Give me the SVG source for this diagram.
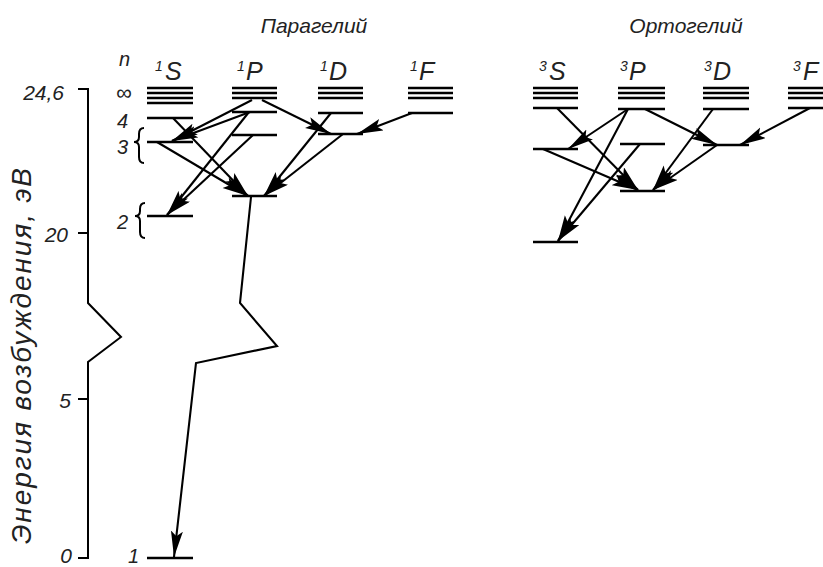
<svg xmlns="http://www.w3.org/2000/svg" width="823" height="567" viewBox="0 0 823 567">
  <style>
    .lv { stroke: #000; stroke-width: 2.6; fill: none; }
    .lvs { stroke: #000; stroke-width: 2.4; fill: none; }
    .ax { stroke: #000; stroke-width: 2; fill: none; }
    .tr { stroke: #000; stroke-width: 2.1; fill: none; marker-end: url(#ah); }
    .t { font-family: "Liberation Sans", Arial, sans-serif; font-style: italic; fill: #222; }
    .term { font-size: 25px; }
    .sup { font-size: 14px; }
    .num { font-size: 21px; }
    .nl { font-size: 20px; }
    .title { font-size: 21px; }
  </style>
  <defs>
    <marker id="ah" markerUnits="userSpaceOnUse" markerWidth="28" markerHeight="13" refX="26" refY="6" orient="auto">
      <path d="M0,0 L26,6 L0,12 L5,6 Z" fill="#000"/>
    </marker>
  </defs>

  <rect width="823" height="567" fill="#fff"/>

  <!-- energy axis with break -->
  <g id="axis">
    <path class="ax" d="M78,89 H88 V303 L121,337 L88,362 V558 H78"/>
    <path class="ax" d="M78,233 H88 M78,399 H88"/>
    <text class="t num" x="64" y="100" text-anchor="end">24,6</text>
    <text class="t num" x="68" y="242" text-anchor="end">20</text>
    <text class="t num" x="71" y="408" text-anchor="end">5</text>
    <text class="t num" x="72" y="563" text-anchor="end">0</text>
    <text class="t" font-size="28" transform="translate(31,356) rotate(-90)" text-anchor="middle" textLength="376" lengthAdjust="spacing">Энергия возбуждения, эВ</text>
  </g>

  <!-- principal quantum number labels -->
  <g id="n-labels">
    <text class="t nl" x="119" y="66">n</text>
    <text class="t" font-size="22" x="116" y="100">∞</text>
    <text class="t nl" x="117" y="128">4</text>
    <text class="t nl" x="117" y="154">3</text>
    <path class="ax" stroke-width="1.6" d="M144,128 Q139,128 139,134 L139,137 Q139,142 134,142 Q139,142 139,147 L139,157 Q139,163 144,163"/>
    <text class="t nl" x="117" y="229">2</text>
    <path class="ax" stroke-width="1.6" d="M145,203 Q140,203 140,209 L140,211 Q140,216 135,216 Q140,216 140,221 L140,232 Q140,238 145,238"/>
    <text class="t nl" x="128" y="563">1</text>
  </g>

  <!-- group titles -->
  <text class="t title" x="314" y="33" text-anchor="middle">Парагелий</text>
  <text class="t title" x="686" y="33" text-anchor="middle">Ортогелий</text>

  <!-- parahelium terms -->
  <g id="p1S">
    <text class="t sup" x="155" y="71">1</text>
    <text class="t term" x="165" y="80">S</text>
    <path class="lvs" d="M147,88 H193 M147,93 H193 M147,98 H193 M147,103 H193"/>
    <path class="lv" d="M147,118 H193 M147,142 H193 M147,216 H193 M147,558 H193"/>
  </g>
  <g id="p1P">
    <text class="t sup" x="237" y="71">1</text>
    <text class="t term" x="246" y="80">P</text>
    <path class="lvs" d="M232,88 H277 M232,93 H277 M232,98 H277"/>
    <path class="lv" d="M232,112 H277 M232,135 H277 M232,196 H277"/>
  </g>
  <g id="p1D">
    <text class="t sup" x="320" y="71">1</text>
    <text class="t term" x="329" y="80">D</text>
    <path class="lvs" d="M318,88 H363 M318,93 H363 M318,98 H363"/>
    <path class="lv" d="M318,113 H363 M318,134 H363"/>
  </g>
  <g id="p1F">
    <text class="t sup" x="410" y="71">1</text>
    <text class="t term" x="419" y="80">F</text>
    <path class="lvs" d="M408,88 H453 M408,93 H453 M408,98 H453"/>
    <path class="lv" d="M408,113 H453"/>
  </g>

  <!-- orthohelium terms -->
  <g id="o3S">
    <text class="t sup" x="539" y="71">3</text>
    <text class="t term" x="549" y="80">S</text>
    <path class="lvs" d="M533,88 H578 M533,93 H578 M533,98 H578"/>
    <path class="lv" d="M533,108 H578 M533,149 H578 M533,242 H578"/>
  </g>
  <g id="o3P">
    <text class="t sup" x="620" y="71">3</text>
    <text class="t term" x="629" y="80">P</text>
    <path class="lvs" d="M618,88 H665 M618,93 H665 M618,98 H665"/>
    <path class="lv" d="M618,109 H665 M620,144 H665 M620,191 H665"/>
  </g>
  <g id="o3D">
    <text class="t sup" x="704" y="71">3</text>
    <text class="t term" x="713" y="80">D</text>
    <path class="lvs" d="M703,88 H749 M703,93 H749 M703,98 H749"/>
    <path class="lv" d="M703,109 H749 M703,145 H749"/>
  </g>
  <g id="o3F">
    <text class="t sup" x="793" y="71">3</text>
    <text class="t term" x="803" y="80">F</text>
    <path class="lvs" d="M788,88 H830 M788,93 H830 M788,98 H830"/>
    <path class="lv" d="M788,108 H830"/>
  </g>

  <!-- radiative transitions -->
  <g id="transitions">
    <path class="tr" d="M252,100 L172,141"/>
    <path class="tr" d="M250,112 L172,141"/>
    <path class="tr" d="M249,112 L167,215"/>
    <path class="tr" d="M253,135 L167,215"/>
    <path class="tr" d="M173,118 L248,196"/>
    <path class="tr" d="M157,142 L248,196"/>
    <path class="tr" d="M262,100 L331,134"/>
    <path class="tr" d="M331,113 L264,196"/>
    <path class="tr" d="M343,134 L264,196"/>
    <path class="tr" d="M412,113 L357,134"/>
    <path class="tr" d="M251,197 L240,303 L277,346 L196,363 L174,557"/>

    <path class="tr" d="M557,108 L638,190"/>
    <path class="tr" d="M628,109 L568,149"/>
    <path class="tr" d="M628,109 L558,241"/>
    <path class="tr" d="M640,144 L558,241"/>
    <path class="tr" d="M543,149 L638,190"/>
    <path class="tr" d="M645,109 L717,145"/>
    <path class="tr" d="M713,109 L653,190"/>
    <path class="tr" d="M717,145 L653,190"/>
    <path class="tr" d="M810,108 L740,145"/>
  </g>
</svg>
